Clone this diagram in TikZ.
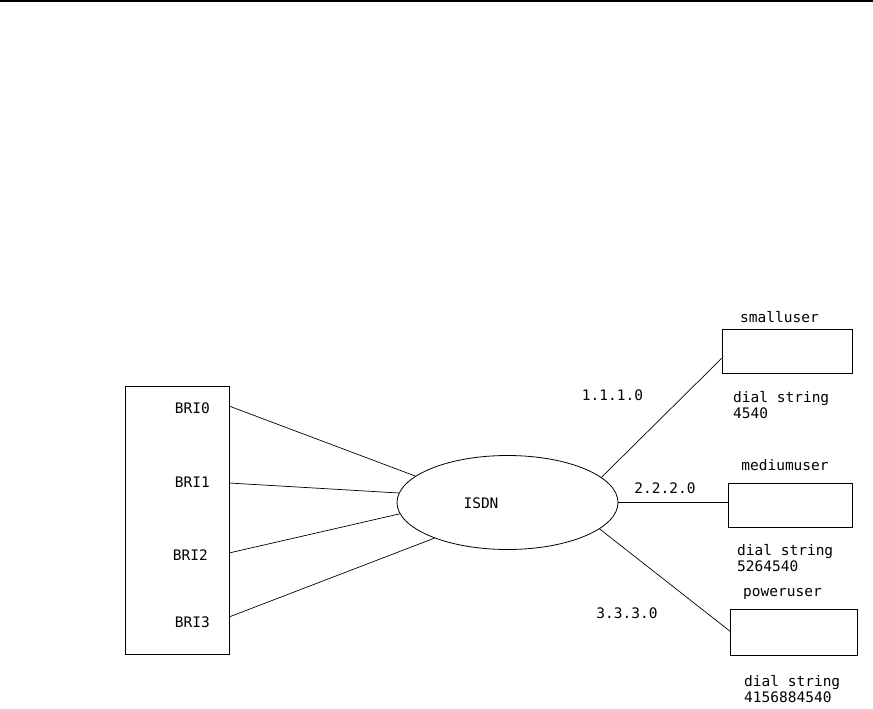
\documentclass[tikz,border=0pt]{standalone}
\usepackage{fontspec}
\setmainfont{DejaVu Sans Mono}
\usetikzlibrary{shapes.geometric}
\begin{document}
\begin{tikzpicture}[x=1pt,y=-1pt,
  box/.style={draw,line width=0.8pt,inner sep=0pt,rectangle},
  lbl/.style={inner sep=0pt,font=\fontsize{14.5}{16}\selectfont},
  conn/.style={line width=0.7pt}]
\useasboundingbox (0,0) rectangle (873,709);
\draw[line width=2.4pt] (0,1.2) -- (873,1.2);
% left box
\node[box,minimum width=104pt,minimum height=268pt] (bri) at (177,520) {};
\node[lbl,anchor=east] (b0) at (210,408) {BRI0};
\node[lbl,anchor=east] (b1) at (210,482) {BRI1};
\node[lbl,anchor=east] (b2) at (208,555) {BRI2};
\node[lbl,anchor=east] (b3) at (210,622) {BRI3};
\coordinate (p0) at (229,406);
\coordinate (p1) at (229,483);
\coordinate (p2) at (229,553);
\coordinate (p3) at (229,617);
% ISDN
\node[draw,ellipse,line width=0.8pt,minimum width=221pt,minimum height=94pt,inner sep=0pt] (isdn) at (507.5,502.5) {};
\node[lbl] (isdnl) at (481,503) {ISDN};
\draw[conn] (p0) -- (isdn.164.3);
\draw[conn] (p1) -- (isdn.175.2);
\draw[conn] (p2) -- (isdn.186.9);
\draw[conn] (p3) -- (isdn.206.4);
% user boxes
\node[box,minimum width=130pt,minimum height=44pt] (small) at (787,351) {};
\node[box,minimum width=124pt,minimum height=44pt] (medium) at (790,505) {};
\node[box,minimum width=127pt,minimum height=46pt] (power) at (793.5,632) {};
\coordinate (s1) at (723,357);
\coordinate (m1) at (729,502.5);
\coordinate (w1) at (731,632);
\draw[conn] (isdn.15.2) -- (s1);
\draw[conn] (isdn.0) -- (m1);
\draw[conn] (isdn.-16.8) -- (w1);
% labels
\node[lbl] (sl) at (779.5,317) {smalluser};
\node[lbl] (ml) at (785,465) {mediumuser};
\node[lbl] (pl) at (782.5,594) {poweruser};
\node[lbl] (ip1) at (612.5,395) {1.1.1.0};
\node[lbl] (ip2) at (665,488) {2.2.2.0};
\node[lbl] (ip3) at (627,613) {3.3.3.0};
\node[lbl,anchor=west,align=left] (d1) at (733,405) {dial string\\4540};
\node[lbl,anchor=west,align=left] (d2) at (737,558.5) {dial string\\5264540};
\node[lbl,anchor=west,align=left] (d3) at (744,689.5) {dial string\\4156884540};
\end{tikzpicture}
\end{document}
